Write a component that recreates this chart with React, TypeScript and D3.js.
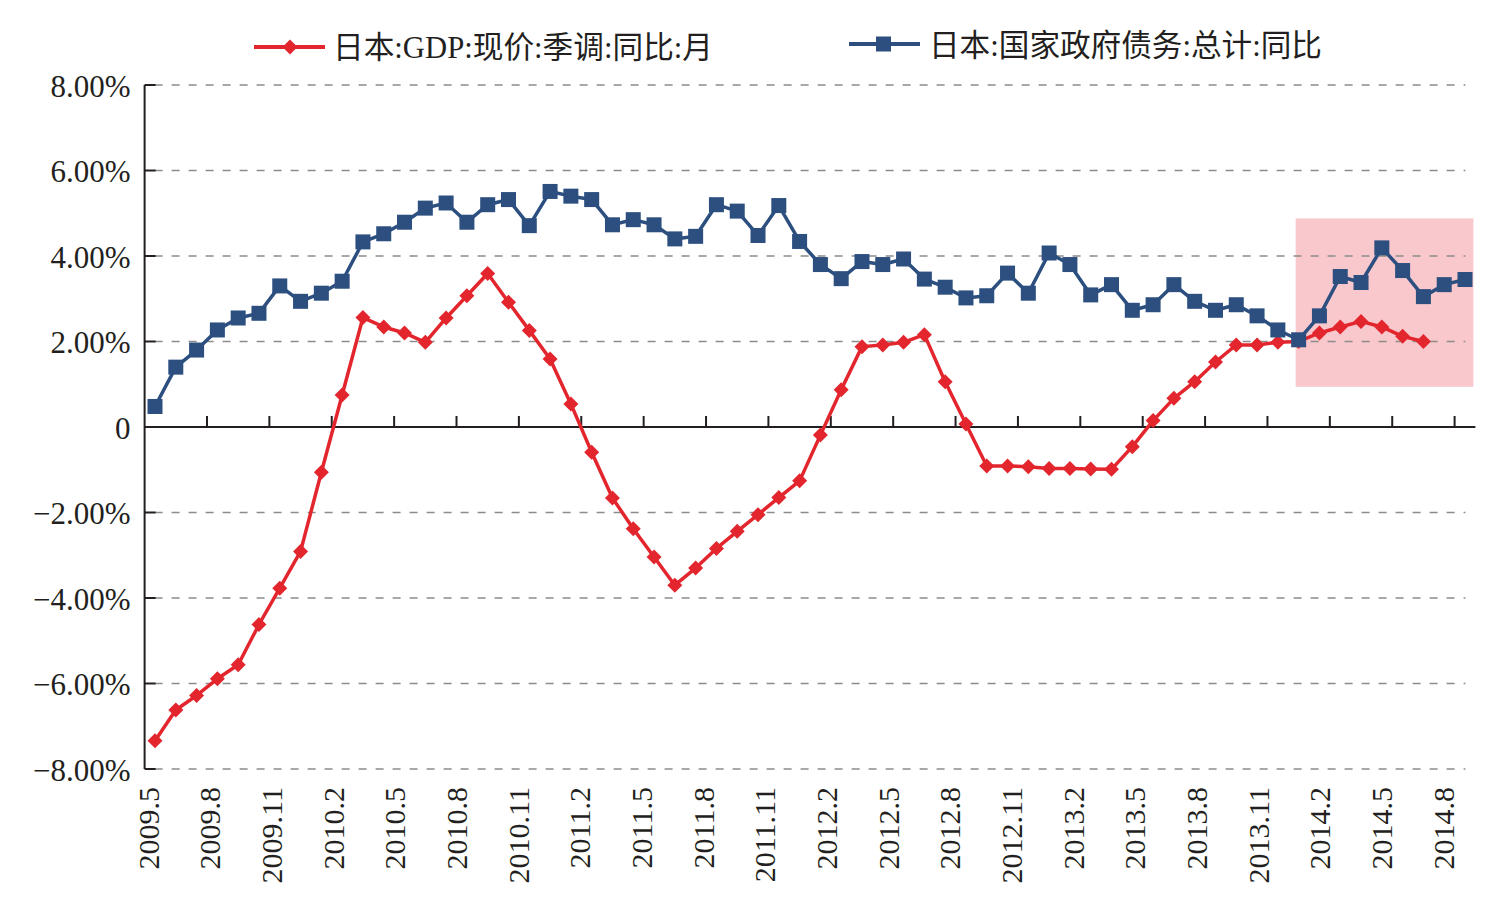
import React, { useEffect, useRef } from 'react';
import * as d3 from 'd3';

// month categories, 2009.5 .. 2014.8
const months = [
  '2009.5', '2009.6', '2009.7', '2009.8', '2009.9', '2009.10', '2009.11', '2009.12',
  '2010.1', '2010.2', '2010.3', '2010.4', '2010.5', '2010.6', '2010.7', '2010.8', '2010.9', '2010.10', '2010.11', '2010.12',
  '2011.1', '2011.2', '2011.3', '2011.4', '2011.5', '2011.6', '2011.7', '2011.8', '2011.9', '2011.10', '2011.11', '2011.12',
  '2012.1', '2012.2', '2012.3', '2012.4', '2012.5', '2012.6', '2012.7', '2012.8', '2012.9', '2012.10', '2012.11', '2012.12',
  '2013.1', '2013.2', '2013.3', '2013.4', '2013.5', '2013.6', '2013.7', '2013.8', '2013.9', '2013.10', '2013.11', '2013.12',
  '2014.1', '2014.2', '2014.3', '2014.4', '2014.5', '2014.6', '2014.7', '2014.8'
];

// 日本:GDP:现价:季调:同比:月 (ends 2014.6)
const gdpYoY = [
  -7.34, -6.62, -6.28, -5.89, -5.56, -4.62, -3.77, -2.91, -1.06, 0.75,
  2.56, 2.34, 2.20, 1.98, 2.55, 3.07, 3.59, 2.92, 2.26, 1.59,
  0.54, -0.59, -1.66, -2.38, -3.04, -3.70, -3.30, -2.84, -2.44, -2.05,
  -1.65, -1.26, -0.19, 0.87, 1.88, 1.92, 1.98, 2.16, 1.06, 0.07,
  -0.91, -0.91, -0.93, -0.97, -0.97, -0.98, -0.99, -0.46, 0.15, 0.67,
  1.06, 1.52, 1.92, 1.92, 1.98, 2.00, 2.20, 2.34, 2.47, 2.34,
  2.12, 2.00
];

// 日本:国家政府债务:总计:同比
const debtYoY = [
  0.48, 1.40, 1.80, 2.27, 2.55, 2.66, 3.30, 2.94, 3.13, 3.41,
  4.33, 4.52, 4.79, 5.12, 5.24, 4.79, 5.20, 5.32, 4.71, 5.51,
  5.40, 5.32, 4.73, 4.85, 4.73, 4.40, 4.46, 5.20, 5.05, 4.48,
  5.18, 4.34, 3.80, 3.47, 3.87, 3.80, 3.93, 3.46, 3.27, 3.02,
  3.07, 3.60, 3.13, 4.07, 3.80, 3.09, 3.33, 2.73, 2.86, 3.33,
  2.94, 2.73, 2.86, 2.60, 2.27, 2.04, 2.60, 3.52, 3.38, 4.19,
  3.66, 3.05, 3.33, 3.45
];

const yTicks = [8, 6, 4, 2, 0, -2, -4, -6, -8];
const xTickLabels = [
  '2009.5', '2009.8', '2009.11', '2010.2', '2010.5', '2010.8', '2010.11',
  '2011.2', '2011.5', '2011.8', '2011.11', '2012.2', '2012.5', '2012.8', '2012.11',
  '2013.2', '2013.5', '2013.8', '2013.11', '2014.2', '2014.5', '2014.8'
];

// highlighted period and its value band
const highlightFrom = '2013.12';
const highlightBand = [0.94, 4.88];

const RED = '#e3262e';
const BLUE = '#2c4f80';
const INK = '#231f20';
const SERIF = '"Liberation Serif", "Times New Roman", serif';
const CJK = '"Liberation Serif", "Noto Sans CJK SC", serif';

export default function App() {
  const ref = useRef<SVGSVGElement>(null);

  useEffect(() => {
    document.body.style.margin = '0';
    const svg = d3.select(ref.current);
    svg.selectAll('*').remove();

    const x = d3.scalePoint<string>().domain(months).range([155, 1465]);
    const step = x.step();
    const y = d3.scaleLinear().domain([-8, 8]).range([769, 85]);
    const left = x(months[0])! - step / 2;
    const right = x(months[months.length - 1])! + step / 2;

    // highlight box
    svg.append('rect')
      .attr('x', x(highlightFrom)! - 3)
      .attr('y', y(highlightBand[1]))
      .attr('width', right - 2 - (x(highlightFrom)! - 3))
      .attr('height', y(highlightBand[0]) - y(highlightBand[1]))
      .attr('fill', '#f8c8cc');

    // grid
    svg.append('g').selectAll('line')
      .data(yTicks.filter(d => d !== 0))
      .enter().append('line')
      .attr('x1', left + 10).attr('x2', right - 10)
      .attr('y1', d => y(d)).attr('y2', d => y(d))
      .attr('stroke', '#8c8c8c').attr('stroke-width', 1.5)
      .attr('stroke-dasharray', '8,9');

    // y axis
    svg.append('line')
      .attr('x1', left).attr('x2', left)
      .attr('y1', y(8)).attr('y2', y(-8))
      .attr('stroke', INK).attr('stroke-width', 2);
    svg.append('g').selectAll('line')
      .data(yTicks)
      .enter().append('line')
      .attr('x1', left).attr('x2', left + 11)
      .attr('y1', d => y(d)).attr('y2', d => y(d))
      .attr('stroke', INK).attr('stroke-width', 2);
    svg.append('g').selectAll('text')
      .data(yTicks)
      .enter().append('text')
      .attr('x', left - 14)
      .attr('y', d => y(d) + 1)
      .attr('text-anchor', 'end')
      .attr('dominant-baseline', 'central')
      .style('font-family', SERIF).style('font-size', '31px').attr('fill', INK)
      .text(d => d === 0 ? '0' : (d < 0 ? '\u2212' : '') + Math.abs(d).toFixed(2) + '%');

    // zero line with category ticks
    svg.append('line')
      .attr('x1', left).attr('x2', right)
      .attr('y1', y(0)).attr('y2', y(0))
      .attr('stroke', INK).attr('stroke-width', 2);
    const tickIdx = months.map((_, i) => i).filter(i => i > 0 && i % 3 === 0);
    svg.append('g').selectAll('line')
      .data(tickIdx)
      .enter().append('line')
      .attr('x1', i => x(months[i])! - step / 2).attr('x2', i => x(months[i])! - step / 2)
      .attr('y1', y(0)).attr('y2', y(0) - 11)
      .attr('stroke', INK).attr('stroke-width', 2);

    // rotated month labels
    const lx = d3.scaleLinear().domain([0, xTickLabels.length - 1]).range([148, 1443]);
    svg.append('g').selectAll('text')
      .data(xTickLabels)
      .enter().append('text')
      .attr('transform', (d, i) => 'translate(' + lx(i) + ',787) rotate(-90)')
      .attr('text-anchor', 'end')
      .attr('dominant-baseline', 'central')
      .style('font-family', SERIF).style('font-size', '30px').attr('fill', INK)
      .text(d => d);

    const line = d3.line<number>()
      .x((d, i) => x(months[i])!)
      .y(d => y(d));
    const diamond = 'M0,-7.5L7.5,0L0,7.5L-7.5,0Z';

    // GDP series
    svg.append('path')
      .attr('d', line(gdpYoY))
      .attr('fill', 'none').attr('stroke', RED).attr('stroke-width', 3.5)
      .attr('stroke-linejoin', 'round');
    svg.append('g').selectAll('path')
      .data(gdpYoY)
      .enter().append('path')
      .attr('d', diamond)
      .attr('transform', (d, i) => 'translate(' + x(months[i]) + ',' + y(d) + ')')
      .attr('fill', RED);

    // debt series
    svg.append('path')
      .attr('d', line(debtYoY))
      .attr('fill', 'none').attr('stroke', BLUE).attr('stroke-width', 3.5)
      .attr('stroke-linejoin', 'round');
    svg.append('g').selectAll('rect')
      .data(debtYoY)
      .enter().append('rect')
      .attr('x', (d, i) => x(months[i])! - 7.5)
      .attr('y', d => y(d) - 7.5)
      .attr('width', 15).attr('height', 15)
      .attr('fill', BLUE);

    // legend
    const lg = svg.append('g');
    lg.append('line').attr('x1', 254).attr('x2', 325).attr('y1', 47).attr('y2', 47)
      .attr('stroke', RED).attr('stroke-width', 4);
    lg.append('path').attr('d', diamond).attr('transform', 'translate(290,47)').attr('fill', RED);
    lg.append('text').attr('x', 333).attr('y', 58)
      .attr('textLength', 380).attr('lengthAdjust', 'spacingAndGlyphs')
      .style('font-family', CJK).style('font-size', '31px').attr('fill', INK)
      .text('日本:GDP:现价:季调:同比:月');

    lg.append('line').attr('x1', 849).attr('x2', 920).attr('y1', 44).attr('y2', 44)
      .attr('stroke', BLUE).attr('stroke-width', 4);
    lg.append('rect').attr('x', 876).attr('y', 36.5).attr('width', 15).attr('height', 15).attr('fill', BLUE);
    lg.append('text').attr('x', 929).attr('y', 56)
      .attr('textLength', 393).attr('lengthAdjust', 'spacingAndGlyphs')
      .style('font-family', CJK).style('font-size', '31px').attr('fill', INK)
      .text('日本:国家政府债务:总计:同比');
  }, []);

  return <svg ref={ref} width={1510} height={918} style={{ display: 'block', background: '#fff' }} />;
}
